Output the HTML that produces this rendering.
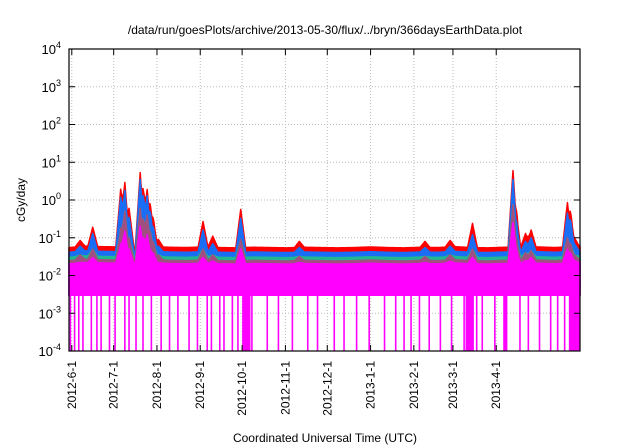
<!DOCTYPE html>
<html><head><meta charset="utf-8"><style>
body{margin:0;background:#fff}
svg{display:block;font-family:"Liberation Sans",sans-serif}
</style></head><body>
<svg id="chart" width="640" height="448" viewBox="0 0 640 448" xmlns="http://www.w3.org/2000/svg">
<text x="325" y="34" font-size="12" text-anchor="middle">/data/run/goesPlots/archive/2013-05-30/flux/../bryn/366daysEarthData.plot</text>
<text x="325" y="442" font-size="12" text-anchor="middle">Coordinated Universal Time (UTC)</text>
<text transform="translate(25,200) rotate(-90)" font-size="12" text-anchor="middle">cGy/day</text>
<g id="grid"></g>
<g id="series"></g>
<g id="axes"></g>
</svg>
<script>
const yTicks=[-4,-3,-2,-1,0,1,2,3,4];
const dateLabels=["2012-6-1","2012-7-1","2012-8-1","2012-9-1","2012-10-1","2012-11-1","2012-12-1","2013-1-1","2013-2-1","2013-3-1","2013-4-1"];
const dateDays=[2,32,63,94,124,155,185,216,247,275,306];
const baseRed=[0.055,0.06,0.058,0.057,0.055,0.058,0.056,0.055,0.057,0.055,0.054,0.056,0.055,0.054,0.056,0.055,0.054,0.055,0.057,0.055,0.054,0.056,0.055,0.058,0.055,0.054,0.056,0.055,0.057,0.055,0.058,0.06];
const spikeDays=[8,17,37,40,43,51,53,56,58,60,64,96,103,123,165,255,273,289,318,320,327,331,357,359,362];
const spikeRed=[0.085,0.19,1.8,2.9,0.6,5.3,2.0,1.9,0.8,0.35,0.09,0.27,0.11,0.56,0.08,0.08,0.085,0.24,6.0,0.6,0.13,0.16,0.85,0.5,0.1];
const spikeBlue=[0.06,0.13,1.1,1.8,0.35,3.5,1.3,1.3,0.5,0.2,0.06,0.16,0.07,0.33,0.055,0.055,0.06,0.12,3.5,0.3,0.08,0.1,0.45,0.3,0.07];
const spikeGreen=[0.035,0.05,0.15,0.5,0.1,0.6,0.3,0.4,0.15,0.08,0.035,0.05,0.035,0.09,0.032,0.032,0.035,0.05,0.75,0.1,0.04,0.045,0.1,0.07,0.035];
const spikeMag=[0.022,0.03,0.06,0.15,0.05,0.2,0.1,0.12,0.05,0.04,0.022,0.03,0.024,0.05,0.022,0.022,0.024,0.03,0.25,0.05,0.025,0.03,0.05,0.04,0.025];
const layerBase=[1,0.75,0.55,0.45,0.37];
const dropDays=[1,4,7,10,16,20,23,29,33,40,43,48,53,59,66,72,78,86,92,99,102,108,111,117,121,126,131,142,150,160,171,178,190,197,206,215,226,234,240,245,251,258,266,274,283,292,296,305,313,323,329,337,345,350,355,359,363];
const dropBlocks=[[124,130],[284,290],[311,314],[358,366]];
const NDAYS=366;
const L=69,R=580,T=49,B=351;
const x=d=>L+d*(R-L)/NDAYS;
const y=v=>T+(4-Math.log10(v))*(B-T)/8;
const NS="http://www.w3.org/2000/svg";
function mk(tag,at,parent){const e=document.createElementNS(NS,tag);for(const k in at)e.setAttribute(k,at[k]);parent.appendChild(e);return e;}
const grid=document.getElementById('grid'),ser=document.getElementById('series'),axes=document.getElementById('axes');
yTicks.forEach(p=>{
 const g=mk('line',{x1:L,x2:R,y1:y(Math.pow(10,p)),y2:y(Math.pow(10,p)),stroke:'#bbb','stroke-dasharray':'1,2','stroke-width':1},grid);
 
 
 const t=mk('text',{x:L-8,y:y(Math.pow(10,p))+5,'font-size':13,'text-anchor':'end'},axes);
 
 
 t.innerHTML='10<tspan dy="-6" font-size="9">'+p+'</tspan>';
 mk('line',{x1:L,x2:L+6,y1:y(Math.pow(10,p)),y2:y(Math.pow(10,p)),stroke:'#000'},axes);
 mk('line',{x1:R,x2:R-6,y1:y(Math.pow(10,p)),y2:y(Math.pow(10,p)),stroke:'#000'},axes);
});
dateDays.forEach((d,i)=>{
 const g=mk('line',{x1:x(d),x2:x(d),y1:T,y2:B,stroke:'#bbb','stroke-dasharray':'1,2'},grid);
 
 
 mk('line',{x1:x(d),x2:x(d),y1:B,y2:B-6,stroke:'#000'},axes);
 mk('line',{x1:x(d),x2:x(d),y1:T,y2:T+6,stroke:'#000'},axes);
 const t=mk('text',{transform:`translate(${x(d)+4},${B+10}) rotate(-90)`,'font-size':12,'text-anchor':'end'},axes);
 
 
 t.textContent=dateLabels[i];
});
function series(spk,scale){
 const out=[];
 for(let d=0;d<=NDAYS;d+=0.5){
  const i=Math.min(baseRed.length-2,Math.floor(d/12)),f=d/12-i;
  let v=(baseRed[i]*(1-f)+baseRed[i+1]*f)*scale;
  spikeDays.forEach((sd,k)=>{const dist=Math.abs(d-sd);if(dist<3.5){const w=Math.pow(spk[k]/v,1-dist/3.5)*v;if(w>v)v=w;}});
  out.push([d,v]);
 }
 return out;
}
const bottom=y(0.003);
function area(vals,color,name){
 let p=`M${x(0)},${bottom}`;
 vals.forEach(([d,v])=>{p+=`L${x(d)},${y(v)}`;});
 p+=`L${x(NDAYS)},${bottom}Z`;
 const e=mk('path',{d:p,fill:color,stroke:color,'stroke-width':1.5,'stroke-linejoin':'round'},ser);
 
 
}
area(series(spikeRed,layerBase[0]),'#ff0000','series-red');
area(series(spikeBlue,layerBase[1]),'#1a6ef5','series-blue');
area(series(spikeGreen,layerBase[2]),'#20b890','series-green');
area(series(spikeGreen,layerBase[3]),'#a05080','series-purple');
area(series(spikeMag,layerBase[4]),'#ff00ff','series-magenta');
dropDays.forEach(d=>{
 const e=mk('line',{x1:x(d),x2:x(d),y1:bottom,y2:B,stroke:'#ff00ff','stroke-width':1.6},ser);
 
 
});
dropBlocks.forEach(b=>{
 const e=mk('rect',{x:x(b[0]),y:bottom,width:x(b[1])-x(b[0]),height:B-bottom,fill:'#ff00ff'},ser);
 
 
});
const fr=mk('rect',{x:L,y:T,width:R-L,height:B-T,fill:'none',stroke:'#000','stroke-width':1.2},axes);


</script>
</body></html>
